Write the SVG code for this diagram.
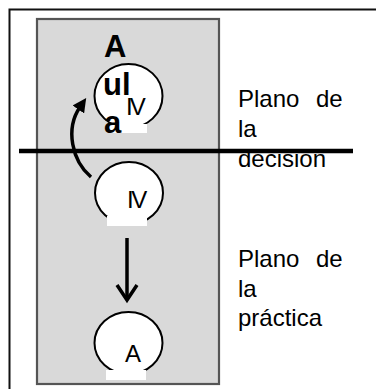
<svg xmlns="http://www.w3.org/2000/svg" width="376" height="389" viewBox="0 0 376 389">
  <style>
    .frame { fill: none; stroke: #111; stroke-width: 2; }
    .panel { fill: #d9d9d9; stroke: #555; stroke-width: 2.2; }
    .head { fill: #fff; stroke: #000; stroke-width: 2; }
    .cap { fill: #fff; stroke: none; }
    .big { font-family: "Liberation Sans", Arial, sans-serif; font-weight: bold; font-size: 31px; fill: #000; }
    .mark { font-family: "Liberation Sans", Arial, sans-serif; font-size: 24px; fill: #000; }
    .label { font-family: "Liberation Sans", Arial, sans-serif; font-size: 24px; fill: #000; }
    .link { fill: none; stroke: #000; stroke-width: 3.5; }
  </style>
  <defs>
    <marker id="solidHead" viewBox="0 0 14 14" refX="3" refY="7" markerWidth="14" markerHeight="14" markerUnits="userSpaceOnUse" orient="auto">
      <path d="M0,0 L14,7 L0,14 z" fill="#000"/>
    </marker>
  </defs>

  <rect width="376" height="389" fill="#fff"/>

  <!-- outer frame (top and left edges) -->
  <path class="frame" d="M9.5,389 V9.5 H376"/>

  <!-- grey panel -->
  <rect class="panel" x="37" y="19" width="182" height="365"/>

  <!-- upper node: head with IV and the word Aula -->
  <g id="node-aula">
    <ellipse class="head" cx="128.5" cy="96" rx="34" ry="32"/>
    <rect class="cap" x="108" y="124" width="39" height="9"/>
    <text class="mark" x="126" y="115" letter-spacing="-3" font-size="24">IV</text>
    <text class="big" x="104" y="57">A</text>
    <text class="big" x="103" y="95">ul</text>
    <text class="big" x="104" y="133">a</text>
  </g>

  <!-- middle node -->
  <g id="node-iv">
    <ellipse class="head" cx="129" cy="193" rx="34" ry="31"/>
    <rect class="cap" x="107" y="216" width="40" height="10"/>
    <text class="mark" x="127" y="208" letter-spacing="-2.5">IV</text>
  </g>

  <!-- lower node -->
  <g id="node-a">
    <ellipse class="head" cx="128.5" cy="343" rx="34" ry="31"/>
    <rect class="cap" x="106" y="370" width="40" height="10"/>
    <text class="mark" x="125" y="362">A</text>
  </g>

  <!-- connectors -->
  <g id="connectors">
    <path class="link" d="M91,177 C72,161 65,129 80,107" marker-end="url(#solidHead)"/>
    <line class="link" x1="127" y1="238" x2="127" y2="300" stroke-width="3"/>
    <polyline class="link" points="117,285 127,300 137,285" stroke-width="3"/>
  </g>

  <!-- plane labels -->
  <g id="label-decision">
    <text class="label" x="238" y="107">Plano<tspan x="316">de</tspan></text>
    <text class="label" x="238" y="137">la</text>
    <text class="label" x="238" y="167">decision</text>
  </g>
  <g id="label-practica">
    <text class="label" x="238" y="267">Plano<tspan x="316">de</tspan></text>
    <text class="label" x="238" y="297">la</text>
    <text class="label" x="238" y="326">práctica</text>
  </g>

  <!-- dividing line between the two planes -->
  <line x1="19" y1="151" x2="353" y2="151" stroke="#000" stroke-width="4.5"/>
</svg>
